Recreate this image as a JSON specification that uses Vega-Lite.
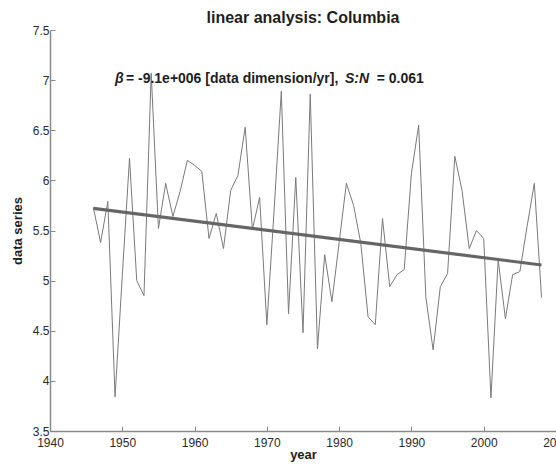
{
  "$schema": "https://vega.github.io/schema/vega-lite/v6.json",
  "width": 506,
  "height": 401,
  "autosize": {"type": "none"},
  "padding": {"left": 50, "top": 30, "right": 0, "bottom": 36},
  "background": "white",
  "title": {
    "text": "linear analysis: Columbia",
    "font": "Liberation Sans",
    "fontSize": 16,
    "fontWeight": "bold",
    "color": "#1e1e1e",
    "anchor": "middle",
    "offset": -2
  },
  "config": {
    "view": {"stroke": null},
    "axis": {
      "domainColor": "#8a8a8a",
      "domainWidth": 1.5,
      "tickColor": "#8a8a8a",
      "tickSize": -5,
      "grid": false,
      "labelFont": "Liberation Sans",
      "labelFontSize": 12,
      "labelColor": "#2a2a2a",
      "titleFont": "Liberation Sans",
      "titleFontSize": 13,
      "titleFontWeight": "bold",
      "titleColor": "#1e1e1e"
    }
  },
  "datasets": {
    "series": [
      {"year": 1946, "value": 5.73e9},
      {"year": 1947, "value": 5.38e9},
      {"year": 1948, "value": 5.79e9},
      {"year": 1949, "value": 3.84e9},
      {"year": 1950, "value": 5.05e9},
      {"year": 1951, "value": 6.22e9},
      {"year": 1952, "value": 5.0e9},
      {"year": 1953, "value": 4.85e9},
      {"year": 1954, "value": 7.07e9},
      {"year": 1955, "value": 5.52e9},
      {"year": 1956, "value": 5.97e9},
      {"year": 1957, "value": 5.64e9},
      {"year": 1958, "value": 5.89e9},
      {"year": 1959, "value": 6.2e9},
      {"year": 1960, "value": 6.15e9},
      {"year": 1961, "value": 6.09e9},
      {"year": 1962, "value": 5.42e9},
      {"year": 1963, "value": 5.67e9},
      {"year": 1964, "value": 5.32e9},
      {"year": 1965, "value": 5.9e9},
      {"year": 1966, "value": 6.05e9},
      {"year": 1967, "value": 6.53e9},
      {"year": 1968, "value": 5.51e9},
      {"year": 1969, "value": 5.83e9},
      {"year": 1970, "value": 4.56e9},
      {"year": 1971, "value": 5.7e9},
      {"year": 1972, "value": 6.89e9},
      {"year": 1973, "value": 4.67e9},
      {"year": 1974, "value": 6.03e9},
      {"year": 1975, "value": 4.48e9},
      {"year": 1976, "value": 6.86e9},
      {"year": 1977, "value": 4.32e9},
      {"year": 1978, "value": 5.26e9},
      {"year": 1979, "value": 4.79e9},
      {"year": 1980, "value": 5.38e9},
      {"year": 1981, "value": 5.97e9},
      {"year": 1982, "value": 5.75e9},
      {"year": 1983, "value": 5.37e9},
      {"year": 1984, "value": 4.64e9},
      {"year": 1985, "value": 4.56e9},
      {"year": 1986, "value": 5.62e9},
      {"year": 1987, "value": 4.94e9},
      {"year": 1988, "value": 5.06e9},
      {"year": 1989, "value": 5.11e9},
      {"year": 1990, "value": 6.07e9},
      {"year": 1991, "value": 6.55e9},
      {"year": 1992, "value": 4.83e9},
      {"year": 1993, "value": 4.31e9},
      {"year": 1994, "value": 4.94e9},
      {"year": 1995, "value": 5.07e9},
      {"year": 1996, "value": 6.24e9},
      {"year": 1997, "value": 5.9e9},
      {"year": 1998, "value": 5.32e9},
      {"year": 1999, "value": 5.5e9},
      {"year": 2000, "value": 5.42e9},
      {"year": 2001, "value": 3.83e9},
      {"year": 2002, "value": 5.21e9},
      {"year": 2003, "value": 4.62e9},
      {"year": 2004, "value": 5.06e9},
      {"year": 2005, "value": 5.09e9},
      {"year": 2006, "value": 5.54e9},
      {"year": 2007, "value": 5.97e9},
      {"year": 2008, "value": 4.83e9}
    ],
    "trend": [
      {"year": 1946, "value": 5.72e9},
      {"year": 2008, "value": 5.156e9}
    ],
    "notes": [
      {"kind": "symbol", "label": "β", "year": 1949.0, "value": 7.01e9},
      {"kind": "plain", "label": "= -9.1e+006 [data dimension/yr],", "year": 1950.5, "value": 7.01e9},
      {"kind": "symbol", "label": "S:N", "year": 1980.8, "value": 7.01e9},
      {"kind": "plain", "label": "= 0.061", "year": 1985.2, "value": 7.01e9}
    ]
  },
  "layer": [
    {
      "data": {"name": "series"},
      "mark": {"type": "line", "color": "#7a7a7a", "strokeWidth": 1},
      "encoding": {
        "x": {
          "field": "year",
          "type": "quantitative",
          "scale": {"domain": [1940, 2010], "nice": false, "zero": false},
          "axis": {
            "title": "year",
            "values": [1940, 1950, 1960, 1970, 1980, 1990, 2000, 2010],
            "format": "d",
            "labelPadding": 11,
            "titlePadding": 0,
            "labelFlush": false,
            "labelOverlap": false
          }
        },
        "y": {
          "field": "value",
          "type": "quantitative",
          "scale": {"domain": [3.5e9, 7.5e9], "nice": false, "zero": false},
          "axis": {
            "title": "data series",
            "values": [3.5e9, 4e9, 4.5e9, 5e9, 5.5e9, 6e9, 6.5e9, 7e9, 7.5e9],
            "labelExpr": "format(datum.value / 1e9, '~g')",
            "labelPadding": 6,
            "titlePadding": 8,
            "labelFlush": false,
            "labelOverlap": false
          }
        }
      }
    },
    {
      "data": {"name": "trend"},
      "mark": {"type": "line", "color": "#666666", "strokeWidth": 3.2},
      "encoding": {
        "x": {"field": "year", "type": "quantitative"},
        "y": {"field": "value", "type": "quantitative"}
      }
    },
    {
      "data": {"name": "notes"},
      "transform": [{"filter": "datum.kind == 'plain'"}],
      "mark": {"type": "text", "align": "left", "baseline": "middle", "font": "Liberation Sans", "fontSize": 14, "fontWeight": "bold", "color": "#1e1e1e"},
      "encoding": {
        "x": {"field": "year", "type": "quantitative"},
        "y": {"field": "value", "type": "quantitative"},
        "text": {"field": "label"}
      }
    },
    {
      "data": {"name": "notes"},
      "transform": [{"filter": "datum.kind == 'symbol'"}],
      "mark": {"type": "text", "align": "left", "baseline": "middle", "font": "Liberation Sans", "fontSize": 14, "fontWeight": "bold", "fontStyle": "italic", "color": "#1e1e1e"},
      "encoding": {
        "x": {"field": "year", "type": "quantitative"},
        "y": {"field": "value", "type": "quantitative"},
        "text": {"field": "label"}
      }
    },
    {
      "mark": {"type": "text", "text": "x 10", "align": "left", "baseline": "middle", "dx": 0, "dy": -7, "font": "Liberation Sans", "fontSize": 10, "color": "#2a2a2a"},
      "encoding": {
        "x": {"datum": 1940, "type": "quantitative"},
        "y": {"datum": 7.5e9, "type": "quantitative"}
      }
    },
    {
      "mark": {"type": "text", "text": "9", "align": "left", "baseline": "middle", "dx": 16, "dy": -11, "font": "Liberation Sans", "fontSize": 8, "color": "#2a2a2a"},
      "encoding": {
        "x": {"datum": 1940, "type": "quantitative"},
        "y": {"datum": 7.5e9, "type": "quantitative"}
      }
    }
  ]
}
